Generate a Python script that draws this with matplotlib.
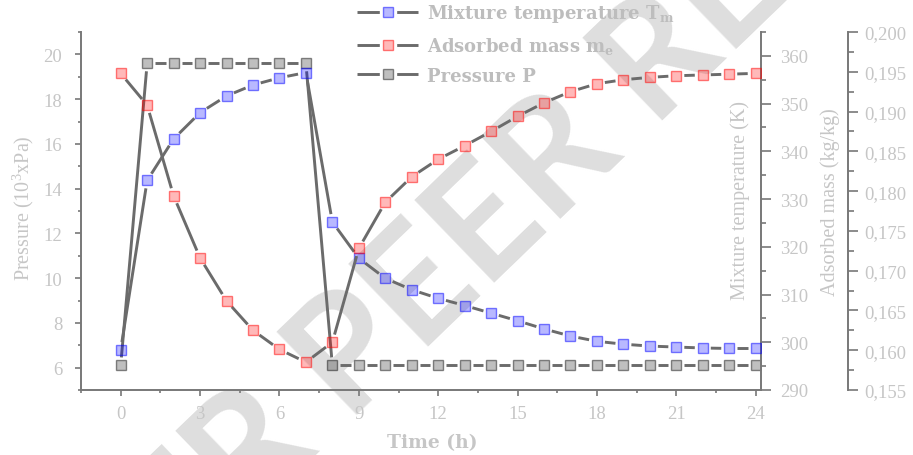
import numpy as np
import matplotlib
matplotlib.use("Agg")
import matplotlib.pyplot as plt
from matplotlib.lines import Line2D
from matplotlib.ticker import MultipleLocator, FuncFormatter

# values
time_h = [0, 1, 2, 3, 4, 5, 6, 7, 8, 9, 10, 11, 12,
          13, 14, 15, 16, 17, 18, 19, 20, 21, 22, 23, 24]
temperature_K = [298.4, 333.9, 342.6, 348.1, 351.6, 353.9, 355.4, 356.5, 325.2,
                 317.6, 313.4, 311.0, 309.2, 307.7, 306.1, 304.5, 302.8, 301.3,
                 300.2, 299.6, 299.2, 299.0, 298.8, 298.7, 298.7]
adsorbed_mass = [0.1948, 0.1908, 0.1794, 0.1716, 0.1662, 0.1625, 0.1601, 0.1585,
                 0.1610, 0.1728, 0.1786, 0.1818, 0.1840, 0.1857, 0.1875, 0.1894,
                 0.1911, 0.1925, 0.1935, 0.1940, 0.1943, 0.1945, 0.1946, 0.1947, 0.1948]
pressure_kPa = [6.1, 19.6, 19.6, 19.6, 19.6, 19.6, 19.6, 19.6, 6.1,
                6.1, 6.1, 6.1, 6.1, 6.1, 6.1, 6.1, 6.1, 6.1,
                6.1, 6.1, 6.1, 6.1, 6.1, 6.1, 6.1]

labels = ["Mixture temperature T$_{m}$", "Adsorbed mass m$_{e}$", "Pressure P"]

text_grey = "#c6c6c6"
spine_grey = "#787878"
line_grey = "#6b6b6b"
blue_face, blue_edge = (0, 0, 1, 0.28), (0, 0, 1, 0.5)
red_face, red_edge = (1, 0, 0, 0.28), (1, 0, 0, 0.5)
grey_face, grey_edge = (0, 0, 0, 0.25), (0, 0, 0, 0.45)

plt.rcParams["mathtext.default"] = "regular"
serif = "Liberation Serif"
bold_serif = "DejaVu Serif"

fig = plt.figure(figsize=(9.13, 4.56), dpi=100)
fig.patch.set_facecolor("white")
ax = fig.add_axes([81 / 913, 65 / 456, 680 / 913, 358 / 456])
ax.patch.set_visible(False)
ax_t = ax.twinx()
ax_m = ax.twinx()
ax_m.spines["right"].set_position(("axes", 1.1275))

# watermark behind everything
fig.text(0.521, 0.478, "UNDER PEER REVIEW", fontsize=115, color="#dedede",
         rotation=44, rotation_mode="anchor", ha="center", va="center",
         family="Lato", fontweight="bold", zorder=-1)

ax.set_xlim(-1.5, 24.2)
ax.set_ylim(5, 21)
ax_t.set_ylim(290, 365)
ax_m.set_ylim(0.155, 0.200)


def gapped_line(a, x, y, gap=8.0):
    # solid segments that stop short of each symbol
    pts = a.transData.transform(np.column_stack([x, y]))
    inv = a.transData.inverted()
    for p0, p1 in zip(pts[:-1], pts[1:]):
        d = np.hypot(*(p1 - p0))
        if d <= 2 * gap:
            continue
        u = (p1 - p0) / d
        seg = inv.transform(np.vstack([p0 + u * gap, p1 - u * gap]))
        a.plot(seg[:, 0], seg[:, 1], color=line_grey, lw=2.1,
               solid_capstyle="butt", zorder=2)


ms = 7.3
gapped_line(ax, time_h, pressure_kPa)
ax.plot(time_h, pressure_kPa, ls="none", marker="s", ms=ms, mfc=grey_face,
        mec=grey_edge, mew=1, zorder=3)
gapped_line(ax_t, time_h, temperature_K)
ax_t.plot(time_h, temperature_K, ls="none", marker="s", ms=ms, mfc=blue_face,
          mec=blue_edge, mew=1, zorder=3)
gapped_line(ax_m, time_h, adsorbed_mass)
ax_m.plot(time_h, adsorbed_mass, ls="none", marker="s", ms=ms, mfc=red_face,
          mec=red_edge, mew=1, zorder=3)

# spines
for a in (ax, ax_t, ax_m):
    for s in a.spines.values():
        s.set_color(spine_grey)
        s.set_linewidth(1.4)
ax.spines["top"].set_visible(False)
ax.spines["right"].set_visible(False)
for a in (ax_t, ax_m):
    a.spines["top"].set_visible(False)
    a.spines["left"].set_visible(False)
    a.spines["bottom"].set_visible(False)

# ticks
ax.xaxis.set_major_locator(MultipleLocator(3))
ax.xaxis.set_minor_locator(MultipleLocator(1.5))
ax.yaxis.set_major_locator(MultipleLocator(2))
ax.yaxis.set_minor_locator(MultipleLocator(1))
ax_t.yaxis.set_major_locator(MultipleLocator(10))
ax_t.yaxis.set_minor_locator(MultipleLocator(5))
ax_m.yaxis.set_major_locator(MultipleLocator(0.005))
ax_m.yaxis.set_minor_locator(MultipleLocator(0.0025))
ax_m.yaxis.set_major_formatter(FuncFormatter(lambda v, p: f"{v:.3f}".replace(".", ",")))

tick_size = 13.5
ax.tick_params(axis="both", which="both", direction="out", color=spine_grey,
               width=1.2, labelcolor=text_grey, labelsize=tick_size)
ax.tick_params(axis="both", which="major", length=4.5)
ax.tick_params(axis="both", which="minor", length=2.5)
ax.tick_params(axis="x", pad=6)
ax.tick_params(axis="y", pad=9)
ax_t.tick_params(axis="y", which="both", direction="out", color=spine_grey,
                 width=1.2, labelcolor=text_grey, labelsize=tick_size, pad=6.5)
ax_t.tick_params(axis="y", which="major", length=7)
ax_t.tick_params(axis="y", which="minor", length=3.6)
ax_m.tick_params(axis="y", which="both", direction="out", color=spine_grey,
                 width=1.2, labelcolor=text_grey, labelsize=tick_size, pad=5)
ax_m.tick_params(axis="y", which="major", length=7)
ax_m.tick_params(axis="y", which="minor", length=4)
for a in (ax, ax_t, ax_m):
    for lab in a.get_xticklabels() + a.get_yticklabels():
        lab.set_family(serif)

# axis labels
ax.set_ylabel("Pressure (10$^{3}$xPa)", color=text_grey, fontsize=14.5, family=serif,
              ha="center", va="center")
ax.yaxis.set_label_coords((23 - 81) / 680, (391 - 208) / 358)
ax_t.set_ylabel("Mixture temperature (K)", color=text_grey, fontsize=14.5,
                family=serif, ha="center", va="center", rotation=90)
ax_t.yaxis.set_label_coords((740 - 81) / 680, (391 - 201) / 358)
ax_m.set_ylabel("Adsorbed mass (kg/kg)", color=text_grey, fontsize=14.5,
                family=serif, ha="center", va="center", rotation=90)
ax_m.yaxis.set_label_coords((830 - 81) / 680, (391 - 202) / 358)
ax.set_xlabel("Time (h)", color=text_grey, fontsize=13.5, family=bold_serif,
              fontweight="bold", ha="center", va="center")
ax.xaxis.set_label_coords((432 - 81) / 680, (391 - 443) / 358)

# legend with a gap around each symbol
handles = []
for face, edge in ((blue_face, blue_edge), (red_face, red_edge), (grey_face, grey_edge)):
    ln = Line2D([], [], color=line_grey, lw=2.1, solid_capstyle="butt")
    halo = Line2D([], [], ls="none", marker="s", ms=ms + 4, mfc="white", mec="white")
    sym = Line2D([], [], ls="none", marker="s", ms=ms, mfc=face, mec=edge, mew=1)
    handles.append((ln, halo, sym))
leg = fig.legend(handles, labels, loc="upper left", bbox_to_anchor=(357 / 913, 1 - 3 / 456),
                 frameon=False, borderpad=0, borderaxespad=0, handlelength=3.4,
                 handletextpad=0.45, labelspacing=0.6,
                 prop={"family": bold_serif, "weight": "bold", "size": 13})
for t in leg.get_texts():
    t.set_color("#bdbdbd")

fig.savefig("out.png", dpi=100)
